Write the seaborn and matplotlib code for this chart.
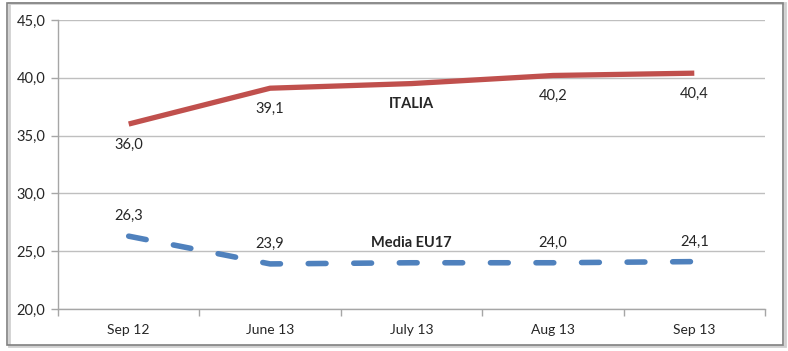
import numpy as np
import pandas as pd
import seaborn as sns
import matplotlib.pyplot as plt
from matplotlib.patches import Rectangle
from matplotlib.ticker import FuncFormatter, FixedLocator

# data
periods = ['Sep 12', 'June 13', 'July 13', 'Aug 13', 'Sep 13']
italia = [36.0, 39.1, 39.5, 40.2, 40.4]
eu17 = [26.3, 23.9, 24.0, 24.0, 24.1]
# July 13 point shows the series name instead of the value
italia_labels = ['36,0', '39,1', 'ITALIA', '40,2', '40,4']
eu17_labels = ['26,3', '23,9', 'Media EU17', '24,0', '24,1']

RED = '#C0504D'
BLUE = '#4F81BD'
GRID = '#BFBFBF'
TXT = '#262626'

sns.set_style('white')
plt.rcParams['font.family'] = ['Lato', 'DejaVu Sans']

df = pd.DataFrame({'x': range(len(periods)), 'ITALIA': italia, 'EU17': eu17})

fig = plt.figure(figsize=(7.88, 3.51), dpi=100)
ax = fig.add_axes([58 / 788, 42 / 351, 707 / 788, 289 / 351])

sns.lineplot(data=df, x='x', y='ITALIA', ax=ax, color=RED, linewidth=3.8,
             solid_capstyle='butt')
sns.lineplot(data=df, x='x', y='EU17', ax=ax, color=BLUE, linewidth=4.0,
             dashes=False)
ax.lines[-1].set_dashes((3.2, 5.0))
ax.lines[-1].set_dash_capstyle('round')

ax.set_ylim(20, 45)
ax.set_xlim(-0.5, len(periods) - 0.5)
ax.set_yticks(np.arange(20, 46, 5))
ax.yaxis.set_major_formatter(FuncFormatter(lambda v, p: f'{v:.1f}'.replace('.', ',')))
ax.set_xticks(range(len(periods)))
ax.set_xticklabels(periods)
ax.xaxis.set_minor_locator(FixedLocator(np.arange(-0.5, len(periods), 1.0)))
ax.set_xlabel('')
ax.set_ylabel('')

ax.grid(axis='y', color=GRID, linewidth=1)
ax.set_axisbelow(True)
for s in ['top', 'right']:
    ax.spines[s].set_visible(False)
for s in ['left', 'bottom']:
    ax.spines[s].set_color('#A6A6A6')
    ax.spines[s].set_linewidth(1)

ax.tick_params(axis='y', which='major', length=5, color='#A6A6A6', width=1,
               labelsize=10.5, labelcolor=TXT, pad=4, left=True)
ax.tick_params(axis='x', which='major', length=0, labelsize=10, labelcolor=TXT, pad=11)
ax.tick_params(axis='x', which='minor', length=5, color='#A6A6A6', width=1, bottom=True)

for i, (v, lab) in enumerate(zip(italia, italia_labels)):
    bold = not lab[0].isdigit()
    ax.annotate(lab, (i, v), xytext=(0, -15), textcoords='offset points',
                ha='center', va='center', fontsize=10.5, color=TXT,
                fontweight='bold' if bold else 'normal')
for i, (v, lab) in enumerate(zip(eu17, eu17_labels)):
    bold = not lab[0].isdigit()
    ax.annotate(lab, (i, v), xytext=(0, 14.5), textcoords='offset points',
                ha='center', va='center', fontsize=10.5, color=TXT,
                fontweight='bold' if bold else 'normal')

# chart frame
fig.patches.append(Rectangle((9 / 788, 5 / 351), 776 / 788, 343 / 351,
                             transform=fig.transFigure, fill=False,
                             edgecolor='#D0D0D0', linewidth=2))
fig.patches.append(Rectangle((7 / 788, 6 / 351), 776 / 788, 342 / 351,
                             transform=fig.transFigure, fill=False,
                             edgecolor='#808080', linewidth=1.2))

fig.savefig('out.png', dpi=100)
